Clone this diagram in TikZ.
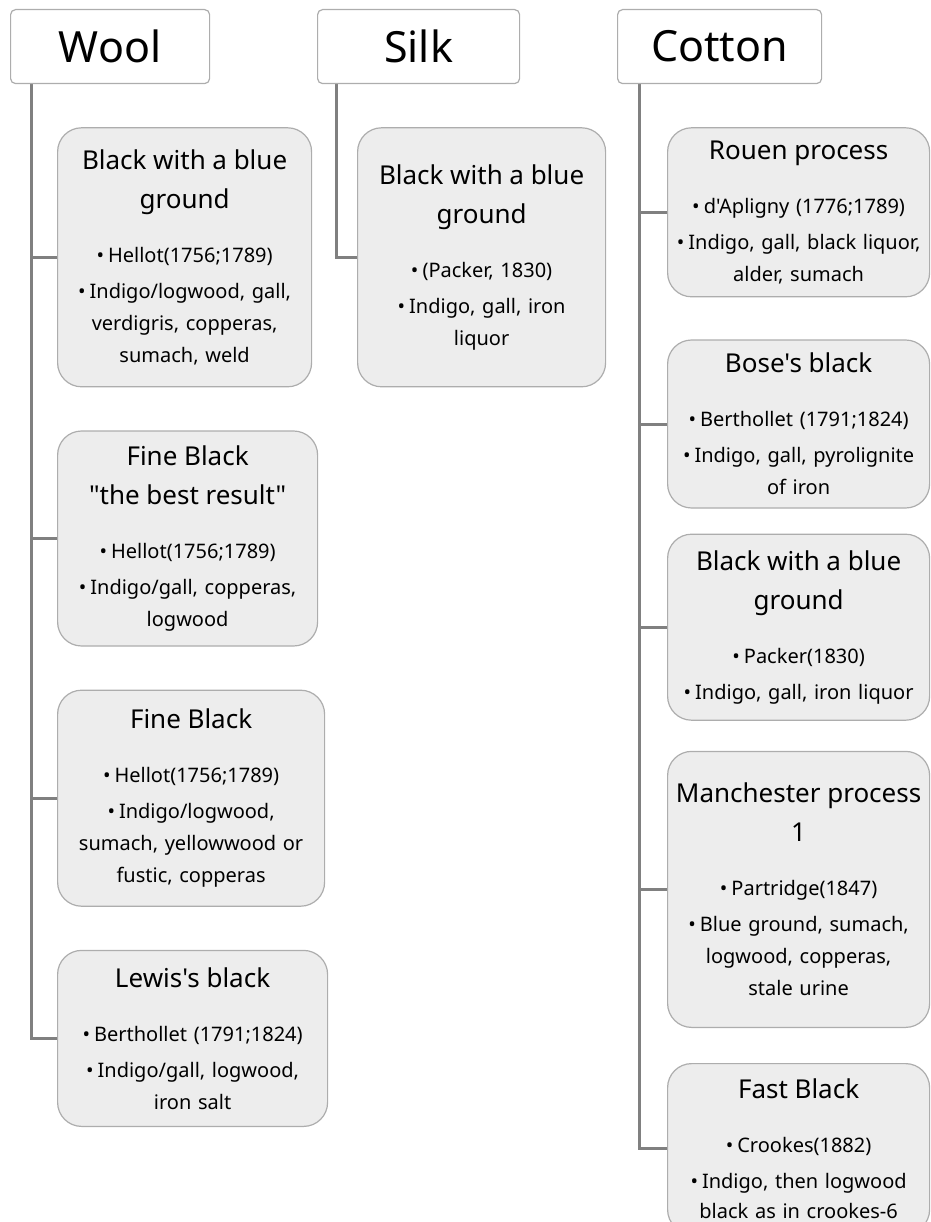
\documentclass[tikz,border=0pt]{standalone}
\usepackage{fontspec}
\setmainfont{Noto Sans}[Ligatures=TeXOff]
\usetikzlibrary{positioning,backgrounds}
\definecolor{boxfill}{HTML}{EDEDED}
\definecolor{boxline}{HTML}{ADADAD}
\definecolor{linkgray}{HTML}{808080}
\newcommand\dyettl[1]{{\fontsize{26}{39}\selectfont #1\par}\vspace{22pt}}
\newcommand\dyeitem{\textbullet\hspace{4pt}}
\begin{document}
\begin{tikzpicture}[x=1pt,y=1pt,
  fibre/.style={draw=boxline,line width=1.2pt,fill=white,rounded corners=5pt,anchor=north west,inner sep=0pt,minimum height=74pt,font=\fontsize{43}{50}\selectfont},
  recipe/.style 2 args={draw=boxline,line width=1.2pt,fill=boxfill,rounded corners=24pt,inner sep=0pt,align=center,minimum width=#1pt,text width=#1pt-12pt,minimum height=#2pt,font=\fontsize{20}{32}\selectfont},
  link/.style={draw=linkgray,line width=3pt}]
\useasboundingbox (0,0) rectangle (930,-1222);
\node[fibre,minimum width=199pt] (wool) at (10,-9) {Wool};
\node[fibre,minimum width=202pt] (silk) at (317,-9) {Silk};
\node[fibre,minimum width=204pt] (cotton) at (617,-9) {Cotton};
\node[recipe={254}{259},below right=43pt and 47pt of wool.south west] (w1) {\dyettl{Black with a blue\\ground}\dyeitem Hellot(1756;1789)\\[4pt]\dyeitem Indigo/logwood, gall,\\verdigris, copperas,\\sumach, weld};
\node[recipe={260}{215},below right=43pt and 0pt of w1.south west] (w2) {\dyettl{Fine Black\\"the best result"}\dyeitem Hellot(1756;1789)\\[4pt]\dyeitem Indigo/gall, copperas,\\logwood};
\node[recipe={267}{216},below right=43pt and 0pt of w2.south west] (w3) {\dyettl{Fine Black}\dyeitem Hellot(1756;1789)\\[4pt]\dyeitem Indigo/logwood,\\sumach, yellowwood or\\fustic, copperas};
\node[recipe={270}{176},below right=43pt and 0pt of w3.south west] (w4) {\dyettl{Lewis's black}\dyeitem Berthollet (1791;1824)\\[4pt]\dyeitem Indigo/gall, logwood,\\iron salt};
\node[recipe={248}{259},below right=43pt and 40pt of silk.south west] (s1) {\dyettl{Black with a blue\\ground}\dyeitem (Packer, 1830)\\[4pt]\dyeitem Indigo, gall, iron\\liquor};
\node[recipe={262}{169},below right=43pt and 50pt of cotton.south west] (c1) {\dyettl{Rouen process}\dyeitem d'Apligny (1776;1789)\\[4pt]\dyeitem Indigo, gall, black liquor,\\alder, sumach};
\node[recipe={262}{168},below right=42pt and 0pt of c1.south west] (c2) {\dyettl{Bose's black}\dyeitem Berthollet (1791;1824)\\[4pt]\dyeitem Indigo, gall, pyrolignite\\of iron};
\node[recipe={262}{186},below right=25pt and 0pt of c2.south west] (c3) {\dyettl{Black with a blue\\ground}\dyeitem Packer(1830)\\[4pt]\dyeitem Indigo, gall, iron liquor};
\node[recipe={262}{276},below right=30pt and 0pt of c3.south west] (c4) {\dyettl{Manchester process\\1}\dyeitem Partridge(1847)\\[4pt]\dyeitem Blue ground, sumach,\\logwood, copperas,\\stale urine};
\node[recipe={262}{170},below right=35pt and 0pt of c4.south west] (c5) {\dyettl{Fast Black}\dyeitem Crookes(1882)\\[4pt]\dyeitem Indigo, then logwood\\[-2pt]black as in crookes-6\\[6pt]};
\coordinate (wt) at ([xshift=21pt]wool.south west);
\coordinate (st) at ([xshift=19pt]silk.south west);
\coordinate (ct) at ([xshift=22pt]cotton.south west);
\begin{scope}[on background layer]
\foreach \k in {w1,w2,w3,w4} \draw[link] (wt) |- (\k.west);
\draw[link] (st) |- (s1.west);
\foreach \k in {c1,c2,c3,c4,c5} \draw[link] (ct) |- (\k.west);
\end{scope}
\end{tikzpicture}
\end{document}
